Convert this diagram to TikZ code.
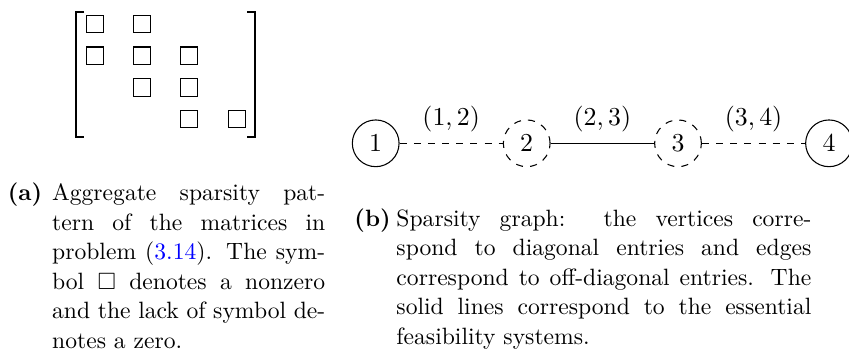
\documentclass[tikz,border=0pt]{standalone}
\usepackage{amssymb}
\usepackage{xcolor}
\usepackage{tikz}
\usetikzlibrary{positioning}
\definecolor{refblue}{HTML}{0000FF}
\tikzset{
  cell/.style={draw, line width=0.45pt, minimum size=7.3pt, inner sep=0pt},
  bracket/.style={line width=0.75pt},
  vertex/.style={circle, draw, line width=0.45pt, minimum size=19.8pt, inner sep=0pt,
    font=\fontsize{11}{13}\selectfont},
  freevertex/.style={vertex, dashed},
  essential/.style={line width=0.45pt},
  nonessential/.style={line width=0.45pt, dashed},
  pairlabel/.style={midway, above=3.2pt, inner sep=1.5pt, font=\fontsize{11}{13}\selectfont},
  sublabel/.style={font=\bfseries, anchor=base west, inner sep=0pt},
  capbody/.style={anchor=base west, inner sep=0pt, align=justify,
    font=\fontsize{10}{12.5}\selectfont}
}
\newcommand{\capline}[1]{\hbox to \linewidth{#1}\par}

\begin{document}
\begin{tikzpicture}[x=0.4237pt,y=0.4237pt]
\useasboundingbox (0,0) rectangle (849,351);

\node[cell] (m11) at (94.7,327.3) {};
\node[cell] (m12) at (142.0,327.3) {};
\node[cell] (m21) at (94.7,295.4) {};
\node[cell] (m22) at (142.0,295.4) {};
\node[cell] (m23) at (189.3,295.4) {};
\node[cell] (m32) at (142.0,263.5) {};
\node[cell] (m33) at (189.3,263.5) {};
\node[cell] (m43) at (189.3,231.7) {};
\node[cell] (m44) at (236.7,231.7) {};
\draw[bracket] (84,339.3) -- (75.7,339.3) -- (75.7,214.3) -- (84,214.3);
\draw[bracket] (247,339.3) -- (255,339.3) -- (255,214.3) -- (247,214.3);

\node[vertex] (v1) at (375.7,207.7) {$1$};
\node[freevertex] (v2) at (526.7,207.7) {$2$};
\node[freevertex] (v3) at (678.0,207.7) {$3$};
\node[vertex] (v4) at (829.0,207.7) {$4$};

\draw[nonessential] (v1) -- node[pairlabel] {$(1,2)$} (v2);
\draw[essential] (v2) -- node[pairlabel] {$(2,3)$} (v3);
\draw[nonessential] (v3) -- node[pairlabel] {$(3,4)$} (v4);

\node[sublabel] (capa) at (7.3,150.3) {(a)};
\node[capbody, text width=115.7pt] (texta) at (51.7,150.3) {%
  \capline{Aggregate sparsity pat-}%
  \capline{tern of the matrices in}%
  \capline{problem (\textcolor{refblue}{3.14}). The sym-}%
  \capline{bol $\square$ denotes a nonzero}%
  \capline{and the lack of symbol de-}%
  notes a zero.};

\node[sublabel] (capb) at (354.0,125.0) {(b)};
\node[capbody, text width=175.8pt] (textb) at (396.0,125.0) {%
  \capline{Sparsity graph:\ \ the vertices corre-}%
  \capline{spond to diagonal entries and edges}%
  \capline{correspond to off-diagonal entries. The}%
  \capline{solid lines correspond to the essential}%
  feasibility systems.};
\end{tikzpicture}
\end{document}
